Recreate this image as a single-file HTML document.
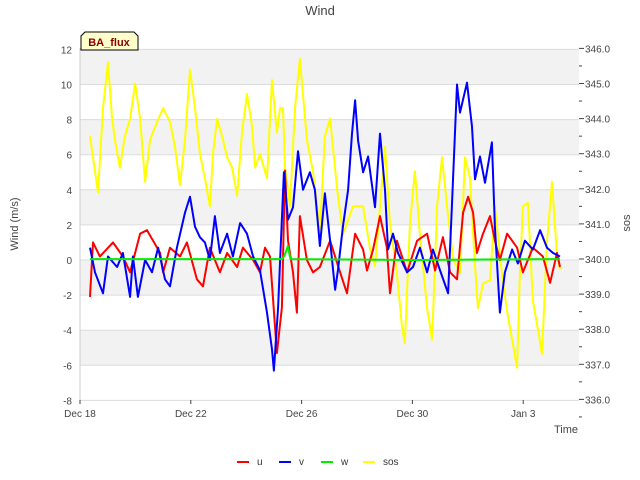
<!DOCTYPE html>
<html><head><meta charset="utf-8"><style>
body{margin:0;background:#fff;}
svg{display:block;font-family:"Liberation Sans","DejaVu Sans",sans-serif;}
</style></head><body>
<svg id="chart" width="640" height="480" viewBox="0 0 640 480">
<g id="bands"></g>
<g id="axes"></g>
<g id="series"></g>
<text x="320" y="15" text-anchor="middle" font-size="13" fill="#444">Wind</text>
<text transform="translate(18,224) rotate(-90)" text-anchor="middle" font-size="11" fill="#444">Wind (m/s)</text>
<text transform="translate(630,223) rotate(-90)" text-anchor="middle" font-size="11" fill="#444">sos</text>
<text x="566" y="433" text-anchor="middle" font-size="11" fill="#444">Time</text>
<g>
<path d="M81,50 L81,36 L85,32 L134,32 L138,36 L138,50 Z" fill="#ffffcc" stroke="#000" stroke-width="1"/>
<text x="109" y="46" text-anchor="middle" font-size="11" font-weight="bold" fill="#8b0000">BA_flux</text>
</g>
<g id="legend"></g>
</svg>
<script>
const uTimes=[0.36,0.47,0.72,1.19,1.55,1.81,2.17,2.42,2.64,2.89,3.0,3.25,3.61,3.86,4.22,4.44,4.69,5.05,5.31,5.67,5.88,6.25,6.5,6.68,6.86,7.11,7.29,7.4,7.51,7.69,7.83,7.94,8.19,8.41,8.66,9.03,9.39,9.64,9.93,10.22,10.36,10.58,10.83,11.08,11.19,11.44,11.81,12.17,12.53,12.82,13.1,13.36,13.61,13.83,14.01,14.19,14.33,14.55,14.8,14.98,15.16,15.42,15.78,15.99,16.35,16.71,16.97,17.22,17.33];
const uValues=[-2.1,1.0,0.2,1.0,0.2,-0.7,1.5,1.7,1.1,0.4,-0.7,0.7,0.2,1.0,-1.1,-1.5,0.7,-0.7,0.4,-0.4,0.7,0,-0.7,0.7,0.2,-5.3,-2.7,5.1,1.1,-0.7,-3.0,2.5,0,-0.7,-0.4,1.1,-0.7,-1.9,1.5,0.6,-0.6,0.6,2.5,0.7,-1.9,1.1,-0.7,1.1,1.5,-0.6,1.3,-0.7,-1.1,2.7,3.6,2.7,0.4,1.5,2.5,1.1,0,1.5,0.7,-0.7,0.7,0.2,-1.3,0.4,-0.4];
const vTimes=[0.36,0.54,0.83,1.01,1.34,1.55,1.81,1.91,2.09,2.35,2.6,2.82,3.07,3.25,3.5,3.79,3.97,4.15,4.33,4.51,4.69,4.87,5.05,5.31,5.52,5.78,6.03,6.25,6.5,6.75,6.93,7.0,7.15,7.36,7.51,7.69,7.87,8.05,8.3,8.48,8.66,8.84,9.03,9.21,9.31,9.49,9.68,9.82,9.93,10.04,10.22,10.4,10.65,10.83,11.01,11.12,11.3,11.48,11.81,12.02,12.27,12.53,12.74,13.0,13.29,13.43,13.61,13.72,13.97,14.15,14.26,14.44,14.62,14.87,14.98,15.16,15.34,15.6,15.81,16.06,16.35,16.61,16.86,17.08,17.33];
const vValues=[0.7,-0.7,-1.9,0.2,-0.4,0.4,-2.1,0.2,-2.1,0,-0.7,0.7,-1.1,-1.5,0.7,2.7,3.6,1.9,1.3,1.0,0,2.5,0.4,1.5,0.2,2.1,1.5,0.2,-0.6,-3.0,-5.1,-6.3,-2.7,5.0,2.3,3.0,6.2,4.0,5.0,4.0,0.8,3.8,1.1,-1.7,-0.6,1.9,4.0,7.2,9.1,6.8,5.0,5.9,3.0,7.2,4.0,0.6,1.5,0.4,-0.7,-0.4,0.7,-0.7,0.6,-0.6,-1.9,3.2,10.0,8.4,10.1,7.6,4.6,5.9,4.4,6.7,1.9,-3.0,-0.7,0.6,-0.2,1.1,0.6,1.7,0.7,0.4,0.2];
const wTimes=[0.36,3.0,7.3,7.4,7.5,7.6,12.0,17.33];
const wValues=[0.05,0.05,0.05,0.3,0.8,0.05,0.0,0.05];
const sosTimes=[0.36,0.54,0.65,0.83,1.01,1.16,1.26,1.44,1.62,1.81,1.99,2.17,2.35,2.53,2.78,3.0,3.25,3.43,3.61,3.79,3.97,4.15,4.33,4.51,4.69,4.8,4.95,5.13,5.31,5.49,5.67,5.85,6.03,6.21,6.32,6.5,6.75,6.93,7.11,7.22,7.33,7.4,7.58,7.76,7.94,8.19,8.41,8.66,8.84,9.03,9.28,9.49,9.86,10.22,10.47,10.65,10.83,11.01,11.19,11.44,11.62,11.73,11.91,12.09,12.27,12.53,12.71,12.89,13.07,13.25,13.47,13.72,13.9,14.08,14.26,14.37,14.55,14.8,14.98,15.23,15.42,15.6,15.78,15.88,15.99,16.17,16.35,16.53,16.68,16.86,17.04,17.22,17.33];
const sosValues=[343.5,342.5,341.9,344.3,345.6,344.0,343.4,342.6,343.5,344.0,345.0,344.0,342.2,343.4,343.9,344.3,343.9,343.2,342.1,343.4,345.4,344.3,343.0,342.3,341.5,343.0,344.0,343.5,342.9,342.6,341.8,343.6,344.7,343.8,342.6,343.0,342.3,345.1,343.6,344.3,344.3,342.6,341.5,344.3,345.7,343.4,342.5,340.8,343.5,344.0,342.0,340.7,341.5,341.5,340.3,339.8,341.5,343.2,341.0,339.6,338.1,337.6,341.0,342.5,340.7,338.6,337.7,341.5,342.9,341.5,340.0,339.6,342.9,342.3,339.8,338.6,339.3,339.4,341.5,339.6,338.5,337.7,336.9,339.6,341.5,341.6,338.8,338.0,337.3,340.5,342.2,340.1,339.7];
const leftTicks=[12,10,8,6,4,2,0,-2,-4,-6,-8];
const rightTicks=[346.0,345.0,344.0,343.0,342.0,341.0,340.0,339.0,338.0,337.0,336.0];
const xTickDays=[0,4,8,12,16];
const xTickLabels=["Dec 18","Dec 22","Dec 26","Dec 30","Jan 3"];

const NS="http://www.w3.org/2000/svg";
const X0=80,X1=579,YT=48,YB=400;
function xs(d){return X0+d*27.7;}
function yl(v){return 260-v*17.55;}
function yr(s){return 259-(s-340)*35.1;}
function mk(tag,attrs,parent){const e=document.createElementNS(NS,tag);for(const k in attrs)e.setAttribute(k,attrs[k]);parent.appendChild(e);return e;}
const bands=document.getElementById('bands'),axes=document.getElementById('axes'),series=document.getElementById('series'),legend=document.getElementById('legend');
mk('rect',{x:X0,y:YT,width:X1-X0,height:YB-YT,fill:'#fff'},bands);
for(let v=12;v>-8;v-=4){
 const r=mk('rect',{x:X0,y:yl(v),width:X1-X0,height:yl(v-2)-yl(v),fill:'#f2f2f2'},bands);
 
 
}
leftTicks.forEach(v=>{
 const l=mk('line',{x1:X0,x2:X1,y1:yl(v),y2:yl(v),stroke:'#dcdcdc','stroke-width':1},axes);
 
 
 const t=mk('text',{x:72,y:yl(v)+4,'text-anchor':'end','font-size':10,fill:'#444'},axes);
 t.textContent=v;
 
 
});
rightTicks.forEach(s=>{
 mk('line',{x1:X1,x2:X1+5,y1:yr(s),y2:yr(s),stroke:'#444'},axes);
 mk('line',{x1:X1,x2:X1+3,y1:yr(s-0.5),y2:yr(s-0.5),stroke:'#444'},axes);
 const t=mk('text',{x:585,y:yr(s)+4,'font-size':10,fill:'#444'},axes);
 t.textContent=s.toFixed(1);
 
 
});
xTickDays.forEach((d,i)=>{
 mk('line',{x1:xs(d),x2:xs(d),y1:YB,y2:YB+4,stroke:'#444'},axes);
 const t=mk('text',{x:xs(d),y:YB+17,'text-anchor':'middle','font-size':10,fill:'#444'},axes);
 t.textContent=xTickLabels[i];
 
 
});
mk('line',{x1:X0,x2:X0,y1:YT,y2:YB,stroke:'#ccc'},axes);
function line(times,vals,yf,color,name){
 const p=mk('polyline',{points:times.map((t,i)=>xs(t).toFixed(1)+','+yf(vals[i]).toFixed(1)).join(' '),fill:'none',stroke:color,'stroke-width':2,'stroke-linejoin':'round'},series);
 
 
}
line(sosTimes,sosValues,yr,'#ffff00','sos-line');
line(uTimes,uValues,yl,'#ff0000','u-line');
line(vTimes,vValues,yl,'#0000ff','v-line');
line(wTimes,wValues,yl,'#00ee00','w-line');
[['u','#ff0000',237],['v','#0000ff',279],['w','#00ee00',321],['sos','#ffff00',363]].forEach(([n,c,x])=>{
 const g=mk('g',{},legend);
 
 
 mk('line',{x1:x,x2:x+12,y1:462,y2:462,stroke:c,'stroke-width':2},g);
 const t=mk('text',{x:x+20,y:465,'font-size':10,fill:'#333'},g);
 t.textContent=n;
});
</script>
</body></html>
